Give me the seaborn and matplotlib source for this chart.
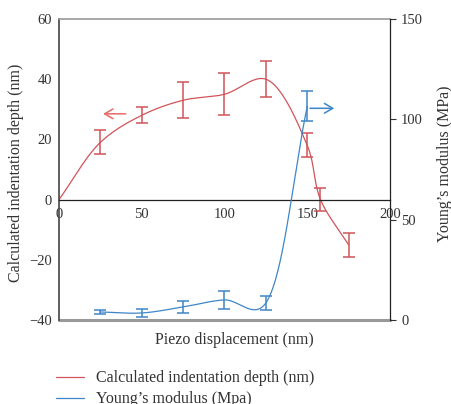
import numpy as np
import pandas as pd
import matplotlib
matplotlib.use("Agg")
import matplotlib.pyplot as plt
import seaborn as sns

# ---- data ----
depth_x = [0, 25, 50, 75, 100, 125, 150, 158, 175]
depth_y = [0, 19, 28, 33, 35, 40, 18, 0, -15]
depth_err = [0, 4, 2.7, 6, 7, 6, 4, 3.8, 4]

mod_x = [25, 50, 75, 100, 125, 150]
mod_y = [4, 3.5, 6.5, 10, 8.5, 106.5]
mod_err = [1.2, 2, 2.8, 4.5, 3.5, 7.5]

x_ticks = [0, 50, 100, 150, 200]
left_ticks = [60, 40, 20, 0, -20, -40]
right_ticks = [0, 50, 100, 150]

RED = "#d0545a"
BLUE = "#3f86c6"
TXT = "#333333"


def smooth(xs, ys, sx, sy, n=60, alpha=0.5):
    """Catmull-Rom curve through the points (computed in pixel-like space)."""
    P = np.column_stack([np.asarray(xs, float) * sx, np.asarray(ys, float) * sy])
    P = np.vstack([2 * P[0] - P[1], P, 2 * P[-1] - P[-2]])
    out = []
    for i in range(1, len(P) - 2):
        p0, p1, p2, p3 = P[i - 1], P[i], P[i + 1], P[i + 2]
        t0 = 0.0
        t1 = t0 + np.linalg.norm(p1 - p0) ** alpha
        t2 = t1 + np.linalg.norm(p2 - p1) ** alpha
        t3 = t2 + np.linalg.norm(p3 - p2) ** alpha
        t = np.linspace(t1, t2, n, endpoint=False)[:, None]
        a1 = (t1 - t) / (t1 - t0) * p0 + (t - t0) / (t1 - t0) * p1
        a2 = (t2 - t) / (t2 - t1) * p1 + (t - t1) / (t2 - t1) * p2
        a3 = (t3 - t) / (t3 - t2) * p2 + (t - t2) / (t3 - t2) * p3
        b1 = (t2 - t) / (t2 - t0) * a1 + (t - t0) / (t2 - t0) * a2
        b2 = (t3 - t) / (t3 - t1) * a2 + (t - t1) / (t3 - t1) * a3
        c = (t2 - t) / (t2 - t1) * b1 + (t - t1) / (t2 - t1) * b2
        out.append(c)
    out.append(P[-2][None, :])
    a = np.vstack(out)
    return a[:, 0] / sx, a[:, 1] / sy


sns.set_style("white")
plt.rcParams["font.family"] = ["Liberation Serif", "DejaVu Serif"]

fig = plt.figure(figsize=(4.52, 4.04), dpi=100)
ax = fig.add_axes([59 / 452, 1 - 320 / 404, (390 - 59) / 452, (320 - 19) / 404])
ax2 = ax.twinx()

rx, ry = smooth(depth_x, depth_y, 1.655, 3.0)
sns.lineplot(x=rx, y=ry, ax=ax, color=RED, lw=0.9, sort=False, estimator=None,
             label="Calculated indentation depth (nm)", legend=False)
ax.errorbar(depth_x[1:], depth_y[1:], yerr=depth_err[1:], fmt="none", ecolor=RED,
            elinewidth=1.1, capsize=4, capthick=1.1)

bx, by = smooth(mod_x, mod_y, 1.655, 2.0, alpha=0.25)
sns.lineplot(x=bx, y=by, ax=ax2, color=BLUE, lw=0.9, sort=False, estimator=None,
             label="Young\u2019s modulus (Mpa)", legend=False)
ax2.errorbar(mod_x, mod_y, yerr=mod_err, fmt="none", ecolor=BLUE,
             elinewidth=1.1, capsize=4, capthick=1.1)

ax.set_xlim(0, 200)
ax.set_ylim(-40, 60)
ax2.set_ylim(0, 150)
ax.set_xticks(x_ticks)
ax.set_yticks(left_ticks)
ax2.set_yticks(right_ticks)
ax.tick_params(axis="x", length=0, labelsize=10.5, colors=TXT, pad=6)
ax.tick_params(axis="y", length=0, labelsize=10.5, colors=TXT, pad=5)
ax2.tick_params(axis="y", length=4, width=0.8, labelsize=10.5, colors=TXT, pad=4, direction="out")

ax.spines["bottom"].set_position(("data", 0))
ax.spines["bottom"].set_color("#222222")
ax.spines["bottom"].set_linewidth(0.9)
ax.spines["left"].set_color("#444444")
ax.spines["left"].set_linewidth(1.2)
ax.spines["top"].set_color("#999999")
ax.spines["top"].set_linewidth(1.2)
ax.spines["right"].set_visible(False)
for s in ["left", "top"]:
    ax2.spines[s].set_visible(False)
ax2.spines["bottom"].set_visible(False)
ax2.spines["right"].set_color("#222222")
ax2.spines["right"].set_linewidth(0.9)
ax.axhline(-40, color="#999999", lw=2.2, clip_on=False, zorder=0)

ax.set_ylabel("Calculated indentation depth (nm)", fontsize=11.5, color=TXT)
ax.yaxis.set_label_coords(-35 / 331, 0.49)
ax2.set_ylabel("Young\u2019s modulus (MPa)", fontsize=11.5, color=TXT)
ax2.yaxis.set_label_coords(1 + 47 / 331, 0.52)
ax.set_xlabel("Piezo displacement (nm)", fontsize=11.5, color=TXT)
ax.xaxis.set_label_coords(0.53, -0.04)

# direction arrows
ax.annotate("", xy=(25, 28.5), xytext=(42, 28.5),
            arrowprops=dict(arrowstyle="->,head_length=0.6,head_width=0.35", color="#e86a6a", lw=1.1))
ax2.annotate("", xy=(168, 105.5), xytext=(150, 105.5),
             arrowprops=dict(arrowstyle="->,head_length=0.6,head_width=0.35", color=BLUE, lw=1.1))

h1, l1 = ax.get_legend_handles_labels()
h2, l2 = ax2.get_legend_handles_labels()
fig.legend(h1 + h2, l1 + l2, loc="upper left", bbox_to_anchor=(50 / 452, 1 - 364 / 404),
           frameon=False, fontsize=11.5, handlelength=1.7, handletextpad=0.75,
           labelspacing=0.3, labelcolor=TXT, borderaxespad=0)

fig.savefig("out.png", dpi=100)
